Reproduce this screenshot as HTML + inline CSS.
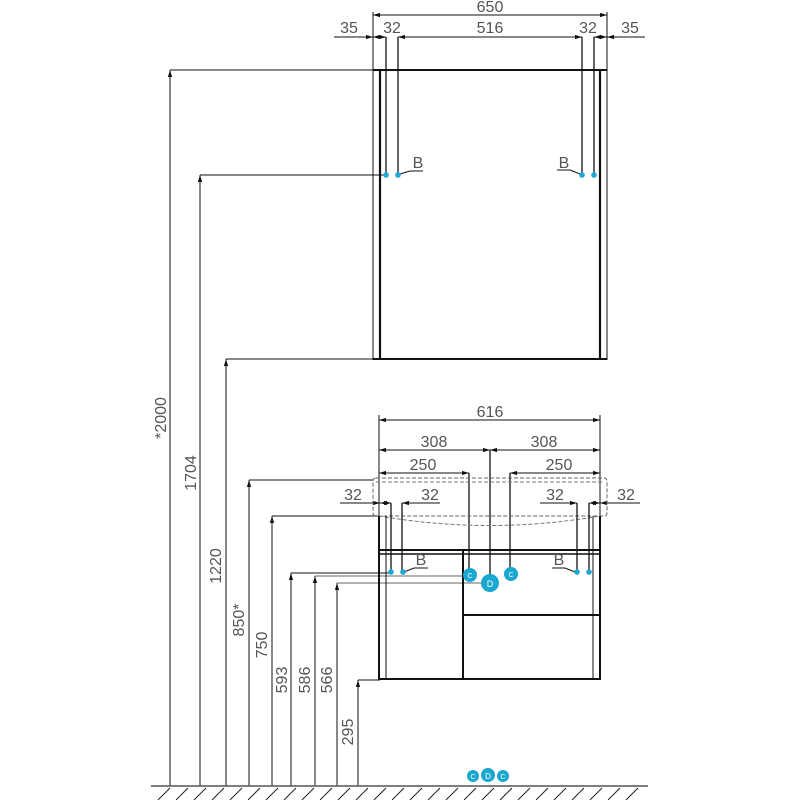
<!DOCTYPE html>
<html><head><meta charset="utf-8"><style>body{margin:0;background:#fff}svg{display:block}text{font-family:"Liberation Sans",sans-serif;fill:#555}</style></head><body>
<svg width="800" height="800" viewBox="0 0 800 800" xmlns="http://www.w3.org/2000/svg">
<defs>
<marker id="a" viewBox="0 0 10 10" refX="10" refY="5" markerWidth="7" markerHeight="7" orient="auto-start-reverse"><path d="M0,2 L10,5 L0,8 z" fill="#111"/></marker>
</defs>
<g stroke="#111" fill="none" stroke-width="1">
<line x1="373" y1="12" x2="373" y2="360"/>
<line x1="607" y1="12" x2="607" y2="360"/>
<line x1="380" y1="70" x2="380" y2="360" stroke-width="2.2"/>
<line x1="600" y1="70" x2="600" y2="360" stroke-width="2.2"/>
<line x1="373" y1="70" x2="607" y2="70" stroke-width="2"/>
<line x1="373" y1="359" x2="607" y2="359" stroke-width="2"/>
<line x1="386" y1="37" x2="386" y2="175" stroke-width="1.3"/>
<line x1="398" y1="37" x2="398" y2="175" stroke-width="1.3"/>
<line x1="582" y1="37" x2="582" y2="175" stroke-width="1.3"/>
<line x1="594" y1="37" x2="594" y2="175" stroke-width="1.3"/>
<line x1="373" y1="15" x2="607" y2="15" marker-start="url(#a)" marker-end="url(#a)"/>
<line x1="334" y1="37" x2="373" y2="37" marker-end="url(#a)"/>
<line x1="373" y1="37" x2="386" y2="37" marker-start="url(#a)" marker-end="url(#a)"/>
<line x1="398" y1="37" x2="410" y2="37" marker-start="url(#a)"/>
<line x1="398" y1="37" x2="582" y2="37"/>
<line x1="570" y1="37" x2="582" y2="37" marker-end="url(#a)"/>
<line x1="594" y1="37" x2="607" y2="37" marker-start="url(#a)" marker-end="url(#a)"/>
<line x1="607" y1="37" x2="645" y2="37" marker-start="url(#a)"/>
<polyline points="400,174 410,171 423,171"/>
<polyline points="580,174 570,170 557,170"/>
<line x1="170" y1="786" x2="170" y2="70" marker-end="url(#a)"/>
<line x1="170" y1="70" x2="373" y2="70"/>
<line x1="200" y1="786" x2="200" y2="175" marker-end="url(#a)"/>
<line x1="200" y1="175" x2="386" y2="175"/>
<line x1="226" y1="786" x2="226" y2="359" marker-end="url(#a)"/>
<line x1="226" y1="359" x2="373" y2="359"/>
<line x1="249" y1="786" x2="249" y2="480" marker-end="url(#a)"/>
<line x1="249" y1="480" x2="373" y2="480"/>
<line x1="272" y1="786" x2="272" y2="516" marker-end="url(#a)"/>
<line x1="272" y1="516" x2="380" y2="516"/>
<line x1="291" y1="786" x2="291" y2="573" marker-end="url(#a)"/>
<line x1="291" y1="573" x2="391" y2="573"/>
<line x1="315" y1="786" x2="315" y2="576" marker-end="url(#a)"/>
<line x1="315" y1="576" x2="470" y2="576" stroke="#666"/>
<line x1="337" y1="786" x2="337" y2="583" marker-end="url(#a)"/>
<line x1="337" y1="583" x2="490" y2="583" stroke="#666"/>
<line x1="358" y1="786" x2="358" y2="680" marker-end="url(#a)"/>
<line x1="358" y1="680" x2="380" y2="680"/>
<line x1="379" y1="420" x2="600" y2="420" marker-start="url(#a)" marker-end="url(#a)"/>
<line x1="379" y1="450" x2="490" y2="450" marker-start="url(#a)" marker-end="url(#a)"/>
<line x1="490" y1="450" x2="600" y2="450" marker-start="url(#a)" marker-end="url(#a)"/>
<line x1="379" y1="473" x2="469" y2="473" marker-start="url(#a)" marker-end="url(#a)"/>
<line x1="510" y1="473" x2="600" y2="473" marker-start="url(#a)" marker-end="url(#a)"/>
<line x1="379" y1="415" x2="379" y2="516"/>
<line x1="600" y1="415" x2="600" y2="516"/>
<line x1="490" y1="450" x2="490" y2="583" stroke-width="1.3"/>
<line x1="469" y1="473" x2="469" y2="575" stroke-width="1.3"/>
<line x1="510" y1="473" x2="510" y2="574" stroke-width="1.3"/>
<line x1="340" y1="503" x2="373" y2="503"/>
<line x1="373" y1="503" x2="380" y2="503" marker-end="url(#a)"/>
<line x1="380" y1="503" x2="391" y2="503" marker-start="url(#a)" marker-end="url(#a)"/>
<line x1="402" y1="503" x2="440" y2="503" marker-start="url(#a)"/>
<line x1="540" y1="503" x2="577" y2="503" marker-end="url(#a)"/>
<line x1="589" y1="503" x2="600" y2="503" marker-start="url(#a)" marker-end="url(#a)"/>
<line x1="600" y1="503" x2="640" y2="503" marker-start="url(#a)"/>
<rect x="373" y="478" width="234" height="38" rx="3" stroke="#666" stroke-dasharray="4,2"/>
<line x1="376" y1="482" x2="604" y2="482" stroke="#777" stroke-dasharray="4,2"/>
<path d="M379,516 Q490,535 600,516" stroke="#777" stroke-dasharray="4,2"/>
<line x1="379" y1="516" x2="379" y2="680" stroke-width="2"/>
<line x1="600" y1="516" x2="600" y2="680" stroke-width="2"/>
<line x1="386" y1="516" x2="386" y2="680"/>
<line x1="593" y1="516" x2="593" y2="680"/>
<line x1="391" y1="503" x2="391" y2="572" stroke-width="1.3"/>
<line x1="402" y1="503" x2="402" y2="572" stroke-width="1.3"/>
<line x1="577" y1="503" x2="577" y2="572" stroke-width="1.3"/>
<line x1="589" y1="503" x2="589" y2="572" stroke-width="1.3"/>
<line x1="379" y1="550" x2="600" y2="550" stroke-width="2"/>
<line x1="379" y1="554" x2="600" y2="554" stroke-width="1.5"/>
<line x1="463" y1="551" x2="463" y2="680" stroke-width="2"/>
<line x1="463" y1="615" x2="600" y2="615" stroke-width="2"/>
<line x1="379" y1="679" x2="600" y2="679" stroke-width="2"/>
<polyline points="404,572 414,568 428,568"/>
<polyline points="575,572 565,568 552,568"/>
<line x1="151" y1="786" x2="648" y2="786" stroke="#555" stroke-width="1.5"/>
</g>
<g stroke="#222" stroke-width="1">
<path d="M158,800L170,788M176,800L188,788M194,800L206,788M212,800L224,788M230,800L242,788M248,800L260,788M266,800L278,788M284,800L296,788M302,800L314,788M320,800L332,788M338,800L350,788M356,800L368,788M374,800L386,788M392,800L404,788M410,800L422,788M428,800L440,788M446,800L458,788M464,800L476,788M482,800L494,788M500,800L512,788M518,800L530,788M536,800L548,788M554,800L566,788M572,800L584,788M590,800L602,788M608,800L620,788M626,800L638,788"/>
</g>
<g fill="#1aa7d0">
<circle cx="386" cy="175" r="2.8"/><circle cx="398" cy="175" r="2.8"/>
<circle cx="582" cy="175" r="2.8"/><circle cx="594" cy="175" r="2.8"/>
<circle cx="391" cy="572" r="2.8"/><circle cx="403" cy="572" r="2.8"/>
<circle cx="577" cy="572" r="2.8"/><circle cx="589" cy="572" r="2.8"/>
<circle cx="470" cy="575" r="7"/><circle cx="511" cy="574" r="7"/><circle cx="490" cy="583" r="9"/>
<circle cx="473" cy="776" r="6"/><circle cx="488" cy="775" r="7"/><circle cx="503" cy="776" r="6"/>
</g>
<g font-size="7" text-anchor="middle">
<text x="470" y="578" style="fill:#fff">C</text><text x="511" y="577" style="fill:#fff">C</text><text x="490" y="587" font-size="9" style="fill:#fff">D</text>
<text x="473" y="779" style="fill:#fff">C</text><text x="488" y="779" font-size="8" style="fill:#fff">D</text><text x="503" y="779" style="fill:#fff">C</text>
</g>
<g font-size="16" text-anchor="middle">
<text x="490" y="12">650</text>
<text x="349" y="33">35</text><text x="392" y="33">32</text><text x="490" y="33">516</text><text x="588" y="33">32</text><text x="630" y="33">35</text>
<text x="418" y="168">B</text><text x="564" y="168">B</text>
<text x="490" y="417">616</text>
<text x="434" y="447">308</text><text x="544" y="447">308</text>
<text x="423" y="470">250</text><text x="559" y="470">250</text>
<text x="353" y="500">32</text><text x="430" y="500">32</text><text x="555" y="500">32</text><text x="626" y="500">32</text>
<text x="421" y="565">B</text><text x="559" y="565">B</text>
<text transform="translate(166,418) rotate(-90)">*2000</text>
<text transform="translate(196,473) rotate(-90)">1704</text>
<text transform="translate(221,566) rotate(-90)">1220</text>
<text transform="translate(244,620) rotate(-90)">850*</text>
<text transform="translate(267,645) rotate(-90)">750</text>
<text transform="translate(287,680) rotate(-90)">593</text>
<text transform="translate(310,680) rotate(-90)">586</text>
<text transform="translate(332,680) rotate(-90)">566</text>
<text transform="translate(353,732) rotate(-90)">295</text>
</g>
</svg>
</body></html>
